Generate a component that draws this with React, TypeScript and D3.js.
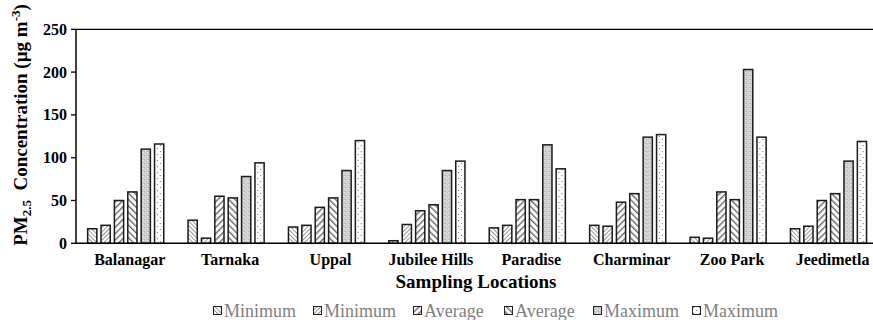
import React from "react";
import * as d3 from "d3";

const locations = ["Balanagar", "Tarnaka", "Uppal", "Jubilee Hills", "Paradise", "Charminar", "Zoo Park", "Jeedimetla"];
const seriesNames = ["Minimum", "Minimum", "Average", "Average", "Maximum", "Maximum"];
const min1 = [17, 27, 19, 3, 18, 21, 7, 17];
const min2 = [21, 6, 21, 22, 21, 20, 6, 20];
const avg1 = [50, 55, 42, 38, 51, 48, 60, 50];
const avg2 = [60, 53, 53, 45, 51, 58, 51, 58];
const max1 = [110, 78, 85, 85, 115, 124, 203, 96];
const max2 = [116, 94, 120, 96, 87, 127, 124, 119];
const yTicks = [0, 50, 100, 150, 200, 250];

const series = [min1, min2, avg1, avg2, max1, max2];
const legendX = [213, 313, 413, 504, 593, 692];

export default function App() {
  const W = 873, H = 320;
  const left = 76, top = 29.3, bottom = 243.3;
  const step = 100.4;
  const x0 = d3.scaleBand<string>().domain(locations).range([75.5, 75.5 + step * locations.length]).paddingInner(0.227).paddingOuter(0.1135);
  const x1 = d3.scaleBand<number>().domain(d3.range(series.length)).range([0, x0.bandwidth()]).paddingInner(0.2).paddingOuter(0);
  const y = d3.scaleLinear().domain([0, 250]).range([bottom, top]);
  const font = "Liberation Serif, Times New Roman, serif";
  const fills = ["url(#p1)", "url(#p2)", "url(#p3)", "url(#p4)", "url(#p5)", "url(#p6)"];

  return (
    <svg width={W} height={H} style={{ position: "absolute", left: 0, top: 0, display: "block" }}>
      <defs>
        <pattern id="p1" width="3" height="3" patternUnits="userSpaceOnUse" patternTransform="rotate(-45)">
          <rect width="3" height="3" fill="#fff" />
          <rect width="1" height="3" fill="#999" />
        </pattern>
        <pattern id="p2" width="3" height="3" patternUnits="userSpaceOnUse" patternTransform="rotate(45)">
          <rect width="3" height="3" fill="#fff" />
          <rect width="1" height="3" fill="#999" />
        </pattern>
        <pattern id="p3" width="4.5" height="4.5" patternUnits="userSpaceOnUse" patternTransform="rotate(45)">
          <rect width="4.5" height="4.5" fill="#fff" />
          <rect width="1.4" height="4.5" fill="#6a6a6a" />
        </pattern>
        <pattern id="p4" width="4.5" height="4.5" patternUnits="userSpaceOnUse" patternTransform="rotate(-45)">
          <rect width="4.5" height="4.5" fill="#fff" />
          <rect width="1.4" height="4.5" fill="#6a6a6a" />
        </pattern>
        <pattern id="p5" width="4" height="4" patternUnits="userSpaceOnUse">
          <rect width="4" height="4" fill="#cdcdcd" />
          <rect x="0" y="0" width="1" height="1" fill="#f0f0f0" />
          <rect x="2" y="2" width="1" height="1" fill="#f0f0f0" />
          <rect x="1" y="3" width="1" height="1" fill="#aaa" />
        </pattern>
        <pattern id="p6" width="6" height="6" patternUnits="userSpaceOnUse">
          <rect width="6" height="6" fill="#fff" />
          <rect x="1" y="1" width="1" height="1" fill="#777" />
          <rect x="4" y="4" width="1" height="1" fill="#777" />
        </pattern>
      </defs>

      <line x1={left} x2={W} y1={top} y2={top} stroke="#000" strokeWidth={1.3} />

      {locations.map((loc, i) => (
        <g key={loc} transform={`translate(${x0(loc)},0)`}>
          {series.map((s, j) => (
            <rect key={j} x={x1(j)! + 0.75} y={y(s[i])} width={x1.bandwidth() - 1.5} height={bottom - y(s[i])}
              fill={fills[j]} stroke="#1a1a1a" strokeWidth={1.5} />
          ))}
        </g>
      ))}

      <line x1={left} x2={left} y1={top} y2={bottom} stroke="#000" strokeWidth={1.5} />
      <line x1={left} x2={W} y1={bottom} y2={bottom} stroke="#000" strokeWidth={1.5} />
      {yTicks.map(t => (
        <g key={t}>
          <line x1={left - 5} x2={left} y1={y(t)} y2={y(t)} stroke="#000" strokeWidth={1.3} />
          <text x={67} y={y(t) + 5.5} textAnchor="end" fontFamily={font} fontWeight="bold" fontSize={16} fill="#000">{t}</text>
        </g>
      ))}

      {locations.map(loc => (
        <text key={loc} x={x0(loc)! + x0.bandwidth() / 2 + 4} y={265} textAnchor="middle" fontFamily={font} fontWeight="bold" fontSize={16} fill="#000">{loc}</text>
      ))}

      <text x={476} y={288} textAnchor="middle" fontFamily={font} fontWeight="bold" fontSize={19} fill="#000">Sampling Locations</text>

      <text transform="translate(27,125) rotate(-90)" textAnchor="middle" fontFamily={font} fontWeight="bold" fontSize={19} fill="#000">
        PM<tspan fontSize={13} dy={4}>2.5</tspan><tspan dy={-4}>{"\u00a0 Concentration (\u00b5g m"}</tspan><tspan fontSize={13} dy={-7}>-3</tspan><tspan dy={7}>)</tspan>
      </text>

      {seriesNames.map((n, j) => (
        <g key={j} transform={`translate(${legendX[j]},0)`}>
          <rect x={0.5} y={306.5} width={8} height={8} fill={fills[j]} stroke="#222" strokeWidth={1} />
          <text x={11} y={317} fontFamily={font} fontSize={18} fill="#7f7f7f">{n}</text>
        </g>
      ))}
    </svg>
  );
}
